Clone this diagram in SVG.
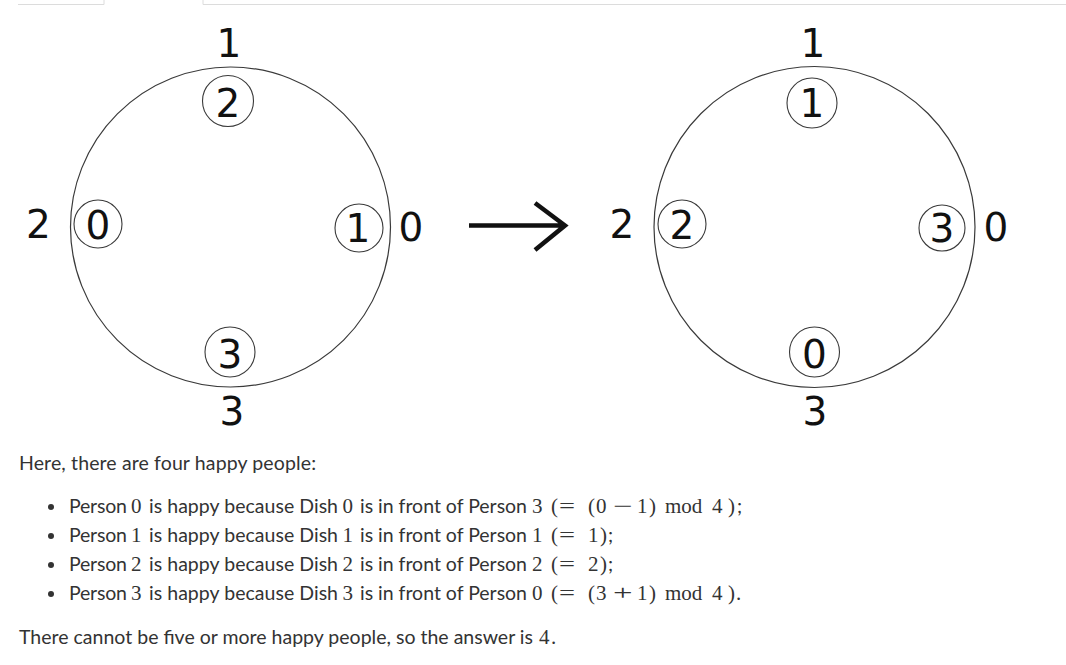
<svg xmlns="http://www.w3.org/2000/svg" width="1066" height="665" viewBox="0 0 1066 665">
<style>
.tab{fill:none;stroke:#dcdcdc;stroke-width:1}
.ring{fill:none;stroke:#3a3a3a;stroke-width:1.2}
.seat{fill:none;stroke:#3a3a3a;stroke-width:1.1}
.d{font-family:"DejaVu Sans",Verdana,sans-serif;font-size:39px;fill:#111;text-anchor:middle}
.t{font-family:Lato,"Liberation Sans",sans-serif;font-size:19.5px;fill:#333}
.m{font-family:"Liberation Serif","Times New Roman",serif;font-size:21px;fill:#333}
.b{fill:#333}
</style>
<rect width="1066" height="665" fill="#fff"/>
<path class="tab" d="M18 4.5H104V0M203 0V4.5H1066"/>

<g id="left-table">
<circle class="ring" cx="230.5" cy="227" r="160"/>
<circle class="seat" cx="228" cy="101" r="25.5"/>
<circle class="seat" cx="98" cy="224" r="24"/>
<circle class="seat" cx="359" cy="228" r="24"/>
<circle class="seat" cx="230" cy="352" r="25"/>
<text class="d" x="229" y="57">1</text>
<text class="d" x="228" y="117">2</text>
<text class="d" x="38.5" y="238">2</text>
<text class="d" x="98" y="239">0</text>
<text class="d" x="358" y="242">1</text>
<text class="d" x="411" y="241">0</text>
<text class="d" x="230" y="368">3</text>
<text class="d" x="232" y="425">3</text>
</g>

<g id="connectors">
<path d="M469 225.5H565M535 203L565 225.5L535 250" fill="none" stroke="#111" stroke-width="4.5" stroke-linejoin="miter"/>
</g>

<g id="right-table">
<circle class="ring" cx="814.5" cy="227" r="160.5"/>
<circle class="seat" cx="812" cy="103" r="25"/>
<circle class="seat" cx="682" cy="224" r="24"/>
<circle class="seat" cx="942" cy="228" r="23"/>
<circle class="seat" cx="814.5" cy="352" r="25"/>
<text class="d" x="813" y="57">1</text>
<text class="d" x="812" y="117">1</text>
<text class="d" x="622" y="238">2</text>
<text class="d" x="682" y="239">2</text>
<text class="d" x="942" y="242">3</text>
<text class="d" x="996" y="241">0</text>
<text class="d" x="814.5" y="368">0</text>
<text class="d" x="815" y="425">3</text>
</g>

<g id="explanation">
<text class="t" x="19" y="470" textLength="297" lengthAdjust="spacing">Here, there are four happy people:</text>

<circle class="b" cx="51" cy="507" r="3"/>
<circle class="b" cx="51" cy="536" r="3"/>
<circle class="b" cx="51" cy="565" r="3"/>
<circle class="b" cx="51" cy="594" r="3"/>

<g id="line1">
<text class="t" x="69" y="513" textLength="58" lengthAdjust="spacing">Person</text>
<text class="m" x="131" y="513">0</text>
<text class="t" x="149" y="513" textLength="189" lengthAdjust="spacing">is happy because Dish</text>
<text class="m" x="342.5" y="513">0</text>
<text class="t" x="360" y="513" textLength="167" lengthAdjust="spacing">is in front of Person</text>
<text class="m" x="532" y="513">3</text>
<text class="m" x="551" y="513">(</text>
<text class="m" transform="translate(559,513) scale(1.35,1)">=</text>
<text class="m" x="588" y="513">(</text>
<text class="m" x="596" y="513">0</text>
<text class="m" transform="translate(613,513) scale(1.65,1)">−</text>
<text class="m" x="637" y="513">1</text>
<text class="m" x="649" y="513">)</text>
<text class="m" x="665" y="513">mod</text>
<text class="m" x="712" y="513">4</text>
<text class="m" x="728" y="513">)</text>
<text class="t" x="737" y="513">;</text>
</g>

<g id="line2">
<text class="t" x="69" y="542" textLength="58" lengthAdjust="spacing">Person</text>
<text class="m" x="131" y="542">1</text>
<text class="t" x="149" y="542" textLength="189" lengthAdjust="spacing">is happy because Dish</text>
<text class="m" x="342.5" y="542">1</text>
<text class="t" x="360" y="542" textLength="167" lengthAdjust="spacing">is in front of Person</text>
<text class="m" x="532" y="542">1</text>
<text class="m" x="551" y="542">(</text>
<text class="m" transform="translate(559,542) scale(1.35,1)">=</text>
<text class="m" x="588" y="542">1</text>
<text class="m" x="600" y="542">)</text>
<text class="t" x="608" y="542">;</text>
</g>

<g id="line3">
<text class="t" x="69" y="571" textLength="58" lengthAdjust="spacing">Person</text>
<text class="m" x="131" y="571">2</text>
<text class="t" x="149" y="571" textLength="189" lengthAdjust="spacing">is happy because Dish</text>
<text class="m" x="342.5" y="571">2</text>
<text class="t" x="360" y="571" textLength="167" lengthAdjust="spacing">is in front of Person</text>
<text class="m" x="532" y="571">2</text>
<text class="m" x="551" y="571">(</text>
<text class="m" transform="translate(559,571) scale(1.35,1)">=</text>
<text class="m" x="588" y="571">2</text>
<text class="m" x="600" y="571">)</text>
<text class="t" x="608" y="571">;</text>
</g>

<g id="line4">
<text class="t" x="69" y="600" textLength="58" lengthAdjust="spacing">Person</text>
<text class="m" x="131" y="600">3</text>
<text class="t" x="149" y="600" textLength="189" lengthAdjust="spacing">is happy because Dish</text>
<text class="m" x="342.5" y="600">3</text>
<text class="t" x="360" y="600" textLength="167" lengthAdjust="spacing">is in front of Person</text>
<text class="m" x="532" y="600">0</text>
<text class="m" x="551" y="600">(</text>
<text class="m" transform="translate(559,600) scale(1.35,1)">=</text>
<text class="m" x="588" y="600">(</text>
<text class="m" x="596" y="600">3</text>
<text class="m" transform="translate(613,600) scale(1.65,1)">+</text>
<text class="m" x="637" y="600">1</text>
<text class="m" x="649" y="600">)</text>
<text class="m" x="665" y="600">mod</text>
<text class="m" x="712" y="600">4</text>
<text class="m" x="728" y="600">)</text>
<text class="m" x="736" y="600">.</text>
</g>

<text class="t" x="19" y="644" textLength="514" lengthAdjust="spacing">There cannot be five or more happy people, so the answer is</text>
<text class="m" x="539" y="644">4</text>
<text class="m" x="551" y="644">.</text>
</g>
</svg>
